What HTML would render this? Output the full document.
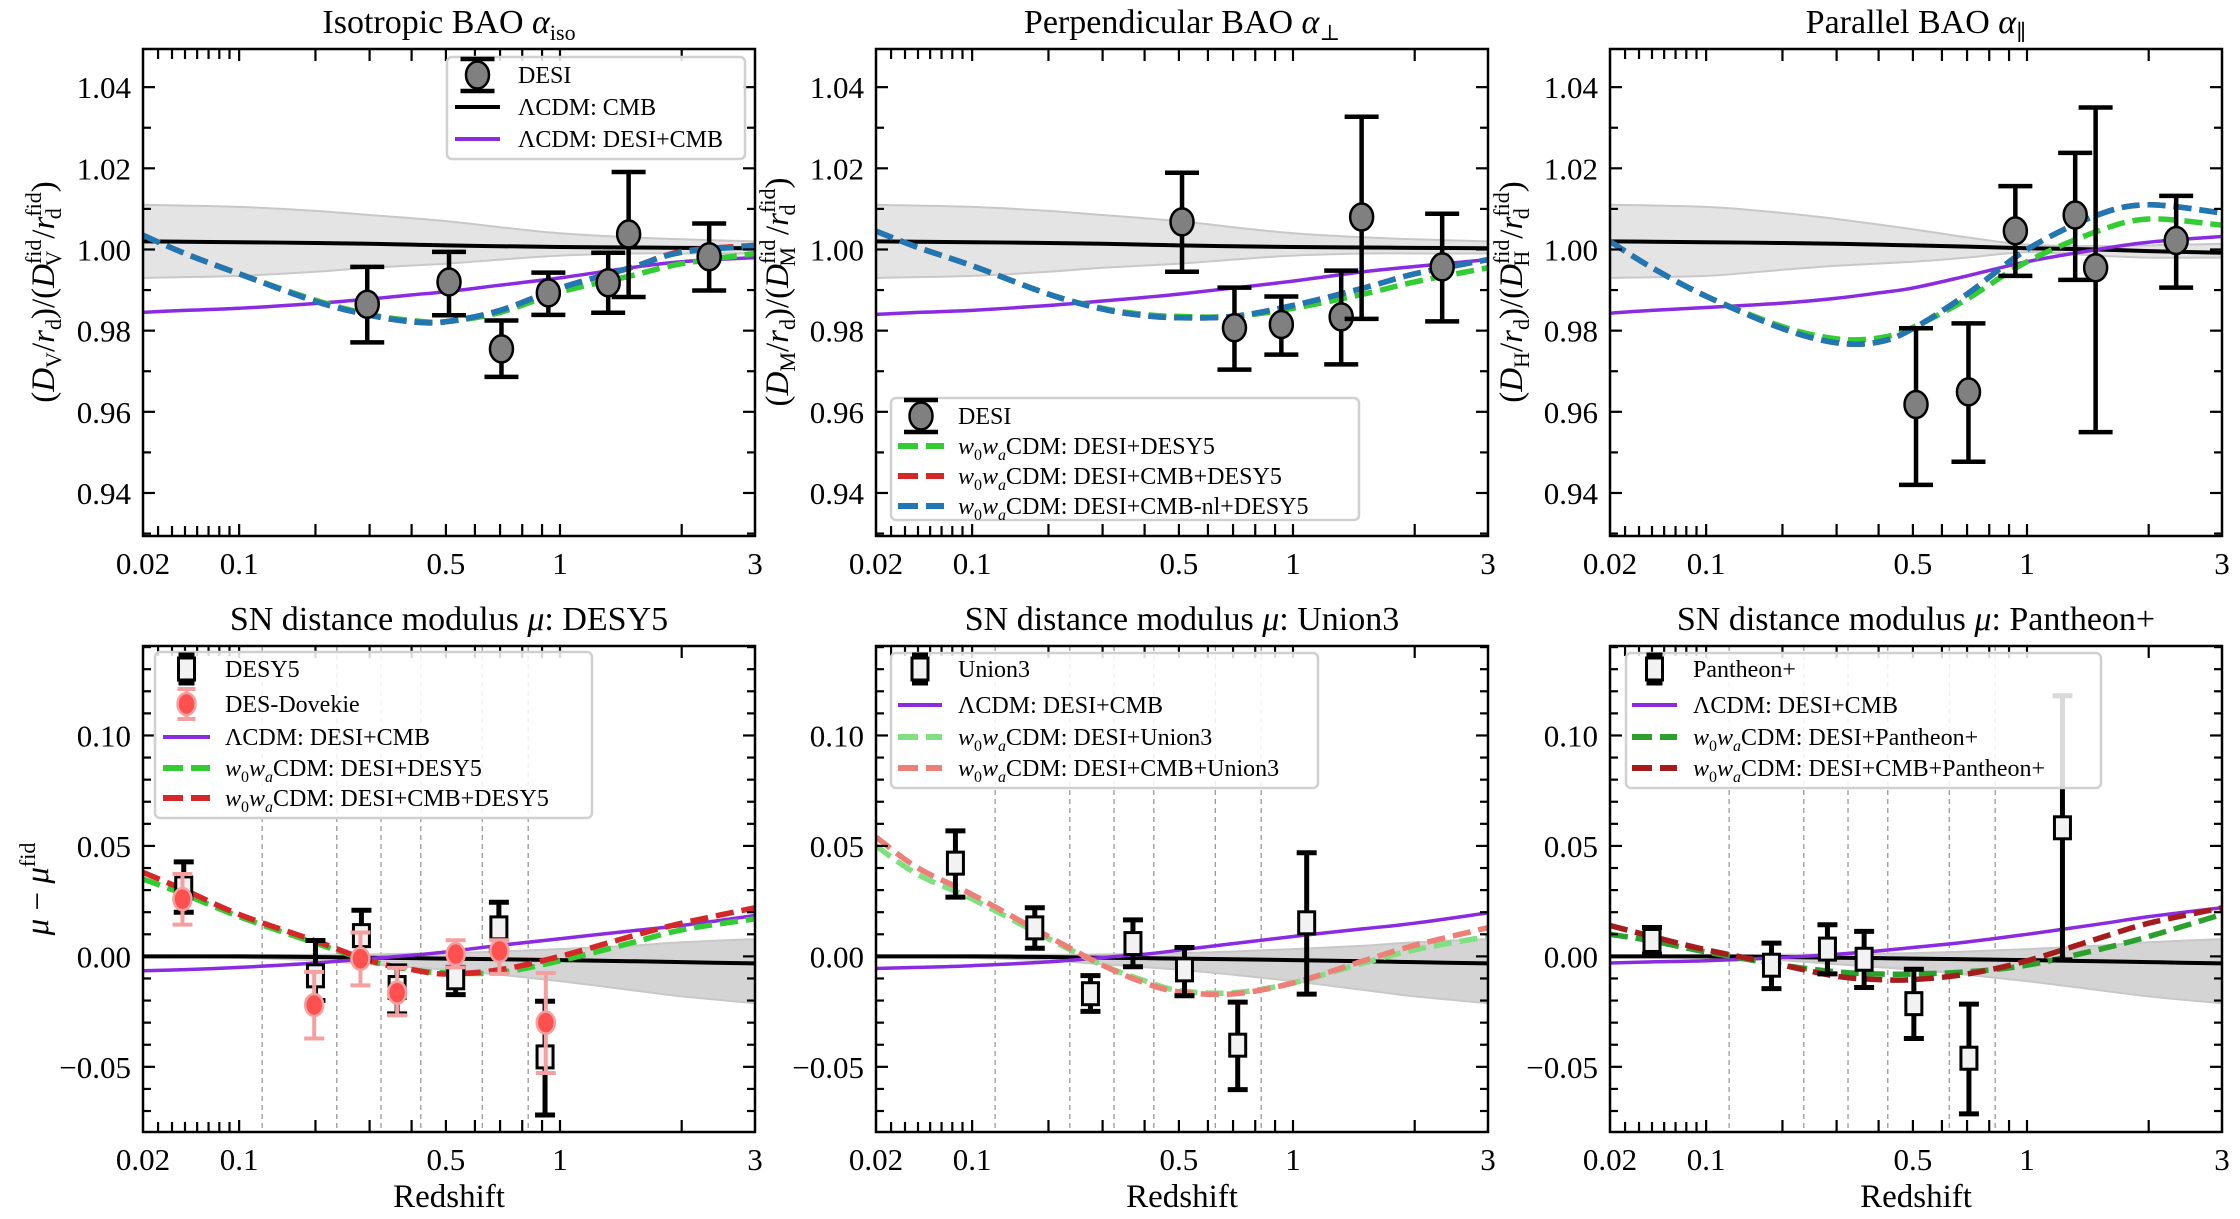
<!DOCTYPE html>
<html><head><meta charset="utf-8"><style>
html,body{margin:0;padding:0;background:#fff;}
svg{display:block;font-family:"Liberation Serif","DejaVu Serif",serif;}
</style></head><body>
<svg id="fig" width="2240" height="1219" viewBox="0 0 2240 1219" xmlns="http://www.w3.org/2000/svg"></svg>
<script>
// ---------- data ----------
const zGrid=[0.02,0.05,0.1,0.2,0.3,0.4,0.5,0.7,1,1.5,2,3];
const bandZ=[0.02,0.1,0.2,0.3,0.5,0.7,1,1.5,2,3];
const baoIsoZ=[0.295,0.51,0.706,0.934,1.321,1.484,2.33];
const baoIsoV=[0.9865,0.992,0.9755,0.9893,0.9918,1.0038,0.9982];
const baoIsoHi=[0.9957,0.9994,0.9825,0.9943,0.9992,1.0191,1.0064];
const baoIsoLo=[0.9771,0.9838,0.9686,0.9839,0.9844,0.9883,0.9899];
const baoZ=[0.51,0.706,0.934,1.321,1.484,2.33];
const baoPerpV=[1.0068,0.9807,0.9815,0.9834,1.0080,0.9957];
const baoPerpHi=[1.0189,0.9906,0.9884,0.9948,1.0327,1.0088];
const baoPerpLo=[0.9945,0.9704,0.9741,0.9717,0.9829,0.9823];
const baoParV=[0.9618,0.9649,1.0046,1.0085,0.9955,1.0022];
const baoParHi=[0.9806,0.9818,1.0156,1.0238,1.0350,1.0132];
const baoParLo=[0.9420,0.9477,0.9935,0.9925,0.9550,0.9906];

const isoBlack=[1.002,1.0019,1.0018,1.0016,1.0014,1.0012,1.001,1.0008,1.0006,1.0005,1.0004,1.0003];
const isoPurple=[0.9845,0.985,0.9855,0.9867,0.9878,0.9888,0.9896,0.9912,0.993,0.9955,0.997,0.998];
const isoGreen=[1.0035,0.999,0.994,0.9875,0.984,0.9825,0.9822,0.9845,0.9895,0.9935,0.9965,0.999];
const isoRed=[1.0035,0.999,0.994,0.9872,0.9838,0.9822,0.9822,0.985,0.9905,0.9955,0.9995,1.001];
const isoBlue=[1.0035,0.999,0.994,0.9872,0.9838,0.9822,0.9822,0.985,0.9905,0.9955,0.9993,1.0008];
const isoBandHi=[1.011,1.0105,1.0095,1.0085,1.007,1.0055,1.004,1.003,1.0025,1.002];
const isoBandLo=[0.993,0.9935,0.9945,0.9955,0.9965,0.9975,0.9985,0.999,0.999,0.999];

const perpPurple=[0.984,0.9845,0.985,0.9862,0.9873,0.9882,0.989,0.9905,0.9922,0.9945,0.9958,0.9975];
const perpGreen=[1.0045,1.0005,0.996,0.989,0.9855,0.984,0.9835,0.9835,0.9855,0.989,0.992,0.9955];
const perpRed=[1.0045,1.0005,0.996,0.989,0.9853,0.9837,0.9832,0.9835,0.9862,0.9905,0.994,0.9975];
const perpBlue=perpRed;

const parBlack=[1.002,1.0019,1.0018,1.0016,1.0014,1.0012,1.001,1.0007,1.0003,1.0,0.9996,0.9992];
const parPurple=[0.9843,0.985,0.9857,0.9868,0.988,0.9893,0.9905,0.9935,0.997,1.0,1.0018,1.0032];
const parGreen=[1.002,0.9955,0.9885,0.981,0.978,0.9782,0.9808,0.9878,0.997,1.0045,1.0075,1.006];
const parRed=[1.002,0.9955,0.9885,0.9805,0.977,0.9772,0.9805,0.989,1.0,1.0085,1.011,1.009];
const parBlue=parRed;
const parBandHi=[1.011,1.0105,1.009,1.0075,1.005,1.003,1.0012,1.0008,1.001,1.0014];
const parBandLo=[0.993,0.9935,0.995,0.996,0.997,0.998,0.9993,0.9985,0.998,0.998];

const snEdges=[0.126,0.236,0.325,0.425,0.628,0.829];
const snBlack=[0,0,0,-0.0003,-0.0006,-0.0008,-0.001,-0.0013,-0.0017,-0.0022,-0.0026,-0.0032];
const snBandHi=[0,0.0005,0.001,0.0015,0.0025,0.0035,0.005,0.007,0.009,0.011];
const snBandLo=[0,-0.0007,-0.0015,-0.003,-0.005,-0.007,-0.0095,-0.013,-0.0155,-0.018];
const snPurple=[-0.0065,-0.006,-0.005,-0.003,-0.001,0.0005,0.002,0.005,0.008,0.0115,0.014,0.0185];

const desZ=[0.049,0.20,0.283,0.363,0.532,0.695,0.916];
const desV=[0.031,-0.0088,0.0094,-0.0141,-0.0097,0.0129,-0.0455];
const desHi=[0.0428,0.0072,0.0209,-0.0043,-0.005,0.0245,-0.0203];
const desLo=[0.020,-0.020,-0.0016,-0.026,-0.0173,0.0028,-0.0718];
const dovZ=[0.048,0.198,0.281,0.363,0.532,0.697,0.92];
const dovV=[0.0259,-0.022,-0.0011,-0.0164,0.001,0.0025,-0.030];
const dovHi=[0.0373,-0.007,0.0108,-0.0052,0.0073,0.0073,-0.0075];
const dovLo=[0.0144,-0.0372,-0.0131,-0.0267,-0.005,-0.0079,-0.0528];
const desGreen=[0.035,0.028,0.018,0.006,-0.002,-0.006,-0.0075,-0.0072,-0.002,0.006,0.012,0.017];
const desRed=[0.038,0.030,0.019,0.007,-0.002,-0.006,-0.008,-0.006,0.0,0.009,0.015,0.022];

const uniZ=[0.083,0.179,0.275,0.37,0.518,0.72,1.083];
const uniV=[0.0422,0.0129,-0.0169,0.0058,-0.0061,-0.0402,0.0152];
const uniHi=[0.0568,0.022,-0.0087,0.0165,0.004,-0.0207,0.0469];
const uniLo=[0.0268,0.0037,-0.0249,-0.0047,-0.0178,-0.0603,-0.0171];
const uniGreen=[0.050,0.037,0.026,0.008,-0.004,-0.011,-0.0155,-0.0165,-0.012,-0.003,0.003,0.009];
const uniRed=[0.054,0.040,0.028,0.009,-0.004,-0.012,-0.016,-0.017,-0.012,-0.002,0.005,0.013];
const uniPurple=[-0.0055,-0.005,-0.0042,-0.0025,-0.0005,0.001,0.0028,0.0058,0.009,0.0125,0.015,0.0197];

const panZ=[0.05,0.183,0.281,0.363,0.503,0.708,1.228];
const panV=[0.0072,-0.004,0.0033,-0.0013,-0.0214,-0.0461,0.0582];
const panHi=[0.0131,0.006,0.0143,0.0113,-0.0058,-0.0216,0.118];
const panLo=[0.001,-0.0146,-0.0079,-0.0141,-0.0372,-0.0713,-0.0016];
const panGreen=[0.010,0.007,0.002,-0.004,-0.007,-0.008,-0.008,-0.007,-0.004,0.003,0.009,0.019];
const panRed=[0.014,0.009,0.003,-0.004,-0.009,-0.0105,-0.0105,-0.008,-0.002,0.008,0.015,0.022];
const panPurple=[-0.003,-0.0025,-0.002,-0.0005,0.001,0.0025,0.004,0.0065,0.010,0.0145,0.018,0.022];

const xTickVals=[0.02,0.1,0.5,1,3];
const xTickLabels=["0.02","0.1","0.5","1","3"];
const topYTicks=[0.94,0.96,0.98,1.00,1.02,1.04];
const topYLabels=["0.94","0.96","0.98","1.00","1.02","1.04"];
const botYTicks=[-0.05,0,0.05,0.10];
const botYLabels=["\u22120.05","0.00","0.05","0.10"];

// ---------- helpers ----------
const NS="http://www.w3.org/2000/svg";
const svg=document.getElementById('fig');
const W=612, L0=Math.log(0.12), L1=Math.log(3.1);
function mk(tag,attrs,parent){const e=document.createElementNS(NS,tag);for(const k in attrs)e.setAttribute(k,attrs[k]);(parent||svg).appendChild(e);return e;}
function xm(p,z){return p.x0+(Math.log(z+0.1)-L0)/(L1-L0)*W;}
function ym(p,v){return p.y0+(p.ymax-v)/(p.ymax-p.ymin)*p.h;}
function smoothPath(pts){let d='M'+pts[0][0].toFixed(1)+','+pts[0][1].toFixed(1);
 for(let i=0;i<pts.length-1;i++){const p0=pts[i-1]||pts[i],p1=pts[i],p2=pts[i+1],p3=pts[i+2]||p2;
  const c1=[p1[0]+(p2[0]-p0[0])/6,p1[1]+(p2[1]-p0[1])/6],c2=[p2[0]-(p3[0]-p1[0])/6,p2[1]-(p3[1]-p1[1])/6];
  d+='C'+c1[0].toFixed(1)+','+c1[1].toFixed(1)+' '+c2[0].toFixed(1)+','+c2[1].toFixed(1)+' '+p2[0].toFixed(1)+','+p2[1].toFixed(1);}
 return d;}
function curve(p,g,zs,vs,color,w,dash,name){const pts=zs.map((z,i)=>[xm(p,z),ym(p,vs[i])]);
 const a={d:smoothPath(pts),fill:'none',stroke:color,'stroke-width':w,'stroke-linecap':'butt'};if(dash)a['stroke-dasharray']=dash;
 const e=mk('path',a,g);
 
 }
function band(p,g,zs,hi,lo){const up=zs.map((z,i)=>[xm(p,z),ym(p,hi[i])]);const dn=zs.map((z,i)=>[xm(p,z),ym(p,lo[i])]).reverse();
 let d=smoothPath(up);const d2=smoothPath(dn);d+='L'+d2.slice(1)+'Z';
 const e=mk('path',{d:d,fill:p.bandFill,stroke:'#c8c8c8','stroke-width':2},g);
 
 }
function errbars(p,g,zs,vs,hi,lo,kind,name){
 zs.forEach((z,i)=>{const x=xm(p,z);const gg=mk('g',{},g);
  
  
  const col=kind==='dov'?'#f5a0a0':'#000';const lw=kind==='circ'?4.5:(kind==='dov'?4:5);const cw=kind==='circ'?17:10;
  mk('line',{x1:x,x2:x,y1:ym(p,hi[i]),y2:ym(p,lo[i]),stroke:col,'stroke-width':lw},gg);
  mk('line',{x1:x-cw,x2:x+cw,y1:ym(p,hi[i]),y2:ym(p,hi[i]),stroke:col,'stroke-width':lw},gg);
  mk('line',{x1:x-cw,x2:x+cw,y1:ym(p,lo[i]),y2:ym(p,lo[i]),stroke:col,'stroke-width':lw},gg);
  const y=ym(p,vs[i]);
  if(kind==='circ')mk('ellipse',{cx:x,cy:y,rx:11.5,ry:13.5,fill:'#808080',stroke:'#000','stroke-width':2.5},gg);
  else if(kind==='sq')mk('rect',{x:x-8,y:y-11,width:16,height:22,fill:'#f2f2f2',stroke:'#000','stroke-width':3},gg);
  else mk('ellipse',{cx:x,cy:y,rx:9,ry:11,fill:'#ff5050',stroke:'#f5a0a0','stroke-width':2.5},gg);
 });}
function ticksAxes(p,yt,yl,minorStep,xlabels){
 const g=mk('g',{});
 
 
 const xt=[0.03,0.04,0.05,0.06,0.07,0.08,0.09,0.1,0.2,0.3,0.4,0.5,0.6,0.7,0.8,0.9,1,2];
 xt.forEach(z=>{const x=xm(p,z);const L=z<0.1?10:12;
  mk('line',{x1:x,x2:x,y1:p.y0,y2:p.y0+L,stroke:'#000','stroke-width':2.2},g);
  mk('line',{x1:x,x2:x,y1:p.y0+p.h,y2:p.y0+p.h-L,stroke:'#000','stroke-width':2.2},g);});
 for(let v=Math.ceil(p.ymin/minorStep)*minorStep;v<=p.ymax;v+=minorStep){const y=ym(p,v);
  const major=yt.some(t=>Math.abs(t-v)<minorStep/4);const L=major?12:8;
  mk('line',{x1:p.x0,x2:p.x0+L,y1:y,y2:y,stroke:'#000','stroke-width':2.2},g);
  mk('line',{x1:p.x0+W,x2:p.x0+W-L,y1:y,y2:y,stroke:'#000','stroke-width':2.2},g);}
 mk('rect',{x:p.x0,y:p.y0,width:W,height:p.h,fill:'none',stroke:'#000','stroke-width':2.5},g);
 yt.forEach((v,i)=>{const t=mk('text',{x:p.x0-12,y:ym(p,v)+11,'text-anchor':'end','font-size':31},g);t.textContent=yl[i];
  
  });
 xTickVals.forEach((z,i)=>{const t=mk('text',{x:xm(p,z),y:p.y0+p.h+38,'text-anchor':'middle','font-size':31},g);t.textContent=xlabels[i];
  
  });
}
function title(p,html){const t=mk('text',{x:p.x0+W/2,y:p.y0-16,'text-anchor':'middle','font-size':34});t.innerHTML=html;
 
 }
function ylabel(x,y,html,name){const t=mk('text',{x:0,y:0,'text-anchor':'middle','font-size':33,transform:'translate('+x+','+y+') rotate(-90)'});t.innerHTML=html;
 
 }
function clipFor(p){const id='clip-'+p.name;const c=mk('clipPath',{id:id});mk('rect',{x:p.x0,y:p.y0,width:W,height:p.h},c);
 const g=mk('g',{'clip-path':'url(#'+id+')'});
 
 
 return g;}
function legend(box,entries,tx,sx0,sx1){const g=mk('g',{});
 
 
 mk('rect',{x:box[0],y:box[1],width:box[2]-box[0],height:box[3]-box[1],rx:5,fill:'#fff','fill-opacity':0.85,stroke:'#d0d0d0','stroke-width':2.5},g);
 entries.forEach(en=>{const y=en.y;const gg=mk('g',{},g);
  
  
  const cx=(sx0+sx1)/2;
  if(en.kind==='line')mk('line',{x1:sx0,x2:sx1,y1:y,y2:y,stroke:en.color,'stroke-width':en.w||4},gg);
  else if(en.kind==='dash')mk('line',{x1:sx0,x2:sx1,y1:y,y2:y,stroke:en.color,'stroke-width':6,'stroke-dasharray':'20 8'},gg);
  else if(en.kind==='circ'){mk('line',{x1:cx,x2:cx,y1:y-16,y2:y+16,stroke:'#000','stroke-width':4.5},gg);mk('line',{x1:cx-17,x2:cx+17,y1:y-16,y2:y-16,stroke:'#000','stroke-width':4.5},gg);mk('line',{x1:cx-17,x2:cx+17,y1:y+16,y2:y+16,stroke:'#000','stroke-width':4.5},gg);mk('ellipse',{cx:cx,cy:y,rx:11.5,ry:13.5,fill:'#808080',stroke:'#000','stroke-width':2.5},gg);}
  else if(en.kind==='sq'){mk('line',{x1:cx,x2:cx,y1:y-14,y2:y+14,stroke:'#000','stroke-width':5},gg);mk('line',{x1:cx-8,x2:cx+8,y1:y-14,y2:y-14,stroke:'#000','stroke-width':5},gg);mk('line',{x1:cx-8,x2:cx+8,y1:y+14,y2:y+14,stroke:'#000','stroke-width':5},gg);mk('rect',{x:cx-8,y:y-11,width:16,height:22,fill:'#f2f2f2',stroke:'#000','stroke-width':3},gg);}
  else if(en.kind==='dov'){mk('line',{x1:cx,x2:cx,y1:y-15,y2:y+15,stroke:'#f5a0a0','stroke-width':4},gg);mk('line',{x1:cx-9,x2:cx+9,y1:y-15,y2:y-15,stroke:'#f5a0a0','stroke-width':4},gg);mk('line',{x1:cx-9,x2:cx+9,y1:y+15,y2:y+15,stroke:'#f5a0a0','stroke-width':4},gg);mk('ellipse',{cx:cx,cy:y,rx:9,ry:11,fill:'#ff5050',stroke:'#f5a0a0','stroke-width':2.5},gg);}
  const t=mk('text',{x:tx,y:y+8,'font-size':24},gg);t.innerHTML=en.label;});
}
const W0W='<tspan font-style="italic">w</tspan><tspan font-size="16" dy="6">0</tspan><tspan font-style="italic" dy="-6">w</tspan><tspan font-size="16" font-style="italic" dy="6">a</tspan><tspan dy="-6">CDM: </tspan>';

// ---------- panels ----------
const TOP={y0:49,h:487,ymin:0.9294,ymax:1.0494,bandFill:'#e4e4e4'};
const BOT={y0:646,h:486,ymin:-0.0795,ymax:0.1405,bandFill:'#d4d4d4'};
const P=[
 Object.assign({x0:143,name:'iso-panel'},TOP),
 Object.assign({x0:876,name:'perp-panel'},TOP),
 Object.assign({x0:1610,name:'par-panel'},TOP),
 Object.assign({x0:143,name:'desy5-panel'},BOT),
 Object.assign({x0:876,name:'union3-panel'},BOT),
 Object.assign({x0:1610,name:'pantheon-panel'},BOT)];
const GREEN='#32cd32',RED='#d62728',BLUE='#1f77b4',PURP='#8a2be2',DASH='18 8';

// Iso
(function(){const p=P[0],g=clipFor(p);band(p,g,bandZ,isoBandHi,isoBandLo);
 curve(p,g,zGrid,isoBlack,'#000',4,null,'lcdm-cmb-line');curve(p,g,zGrid,isoPurple,PURP,3.5,null,'lcdm-desi-cmb-line');
 curve(p,g,zGrid,isoGreen,GREEN,5.5,DASH,'w0wa-desi-desy5-line');curve(p,g,zGrid,isoRed,RED,5.5,DASH,'w0wa-desi-cmb-desy5-line');curve(p,g,zGrid,isoBlue,BLUE,5.5,DASH,'w0wa-desi-cmb-nl-desy5-line');
 errbars(p,g,baoIsoZ,baoIsoV,baoIsoHi,baoIsoLo,'circ','desi-iso');
 ticksAxes(p,topYTicks,topYLabels,0.01,xTickLabels);
 title(p,'Isotropic BAO <tspan font-style="italic">α</tspan><tspan font-size="22" dy="7">iso</tspan>');
 legend([447,57,745,159],[{y:75,kind:'circ',label:'DESI'},{y:107,kind:'line',color:'#000',label:'ΛCDM: CMB'},{y:139,kind:'line',color:PURP,label:'ΛCDM: DESI+CMB'}],518,455,500);
})();
// Perp
(function(){const p=P[1],g=clipFor(p);band(p,g,bandZ,isoBandHi,isoBandLo);
 curve(p,g,zGrid,isoBlack,'#000',4,null,'lcdm-cmb-line');curve(p,g,zGrid,perpPurple,PURP,3.5,null,'lcdm-desi-cmb-line');
 curve(p,g,zGrid,perpGreen,GREEN,5.5,DASH,'w0wa-desi-desy5-line');curve(p,g,zGrid,perpRed,RED,5.5,DASH,'w0wa-desi-cmb-desy5-line');curve(p,g,zGrid,perpBlue,BLUE,5.5,DASH,'w0wa-desi-cmb-nl-desy5-line');
 errbars(p,g,baoZ,baoPerpV,baoPerpHi,baoPerpLo,'circ','desi-perp');
 ticksAxes(p,topYTicks,topYLabels,0.01,xTickLabels);
 title(p,'Perpendicular BAO <tspan font-style="italic">α</tspan><tspan font-size="22" dy="7">⊥</tspan>');
 legend([891,398,1359,520],[{y:416,kind:'circ',label:'DESI'},{y:446,kind:'dash',color:GREEN,label:W0W+'DESI+DESY5'},{y:476,kind:'dash',color:RED,label:W0W+'DESI+CMB+DESY5'},{y:506,kind:'dash',color:BLUE,label:W0W+'DESI+CMB-nl+DESY5'}],958,898,944);
})();
// Par
(function(){const p=P[2],g=clipFor(p);band(p,g,bandZ,parBandHi,parBandLo);
 curve(p,g,zGrid,parBlack,'#000',4,null,'lcdm-cmb-line');curve(p,g,zGrid,parPurple,PURP,3.5,null,'lcdm-desi-cmb-line');
 curve(p,g,zGrid,parGreen,GREEN,5.5,DASH,'w0wa-desi-desy5-line');curve(p,g,zGrid,parRed,RED,5.5,DASH,'w0wa-desi-cmb-desy5-line');curve(p,g,zGrid,parBlue,BLUE,5.5,DASH,'w0wa-desi-cmb-nl-desy5-line');
 errbars(p,g,baoZ,baoParV,baoParHi,baoParLo,'circ','desi-par');
 ticksAxes(p,topYTicks,topYLabels,0.01,xTickLabels);
 title(p,'Parallel BAO <tspan font-style="italic">α</tspan><tspan font-size="22" dy="7">∥</tspan>');
})();
// SN panels
function snPanel(p,pts,curves,purple,tit){const g=clipFor(p);
 snEdges.forEach(z=>{const l=mk('line',{x1:xm(p,z),x2:xm(p,z),y1:p.y0,y2:p.y0+p.h,stroke:'#999','stroke-width':1.3,'stroke-dasharray':'5 4'},g);
  
  });
 band(p,g,bandZ,snBandHi.map((v,i)=>v+(snBlack[[0,2,3,4,6,7,8,9,10,11][i]])),snBandLo.map((v,i)=>v+(snBlack[[0,2,3,4,6,7,8,9,10,11][i]])));
 curve(p,g,zGrid,snBlack,'#000',4,null,'lcdm-cmb-line');curve(p,g,zGrid,purple,PURP,3.5,null,'lcdm-desi-cmb-line');
 curves.forEach(c=>curve(p,g,zGrid,c[0],c[1],5.5,DASH,c[2]));
 pts.forEach(s=>errbars(p,g,s[0],s[1],s[2],s[3],s[4],s[5]));
 ticksAxes(p,botYTicks,botYLabels,0.01,xTickLabels);
 title(p,'SN distance modulus <tspan font-style="italic">μ</tspan>: '+tit);
 const t=mk('text',{x:p.x0+W/2,y:1207,'text-anchor':'middle','font-size':33});t.textContent='Redshift';
 
 }
snPanel(P[3],[[desZ,desV,desHi,desLo,'sq','desy5'],[dovZ,dovV,dovHi,dovLo,'dov','des-dovekie']],[[desGreen,GREEN,'w0wa-desi-desy5-line'],[desRed,RED,'w0wa-desi-cmb-desy5-line']],snPurple,'DESY5');
legend([155,652,592,818],[{y:669,kind:'sq',label:'DESY5'},{y:704,kind:'dov',label:'DES-Dovekie'},{y:737,kind:'line',color:PURP,label:'ΛCDM: DESI+CMB'},{y:768,kind:'dash',color:GREEN,label:W0W+'DESI+DESY5'},{y:798,kind:'dash',color:RED,label:W0W+'DESI+CMB+DESY5'}],225,163,210);
snPanel(P[4],[[uniZ,uniV,uniHi,uniLo,'sq','union3']],[[uniGreen,'#7fe07f','w0wa-desi-union3-line'],[uniRed,'#ee7f77','w0wa-desi-cmb-union3-line']],uniPurple,'Union3');
legend([891,653,1318,788],[{y:669,kind:'sq',label:'Union3'},{y:705,kind:'line',color:PURP,label:'ΛCDM: DESI+CMB'},{y:737,kind:'dash',color:'#7fe07f',label:W0W+'DESI+Union3'},{y:768,kind:'dash',color:'#ee7f77',label:W0W+'DESI+CMB+Union3'}],958,898,942);
snPanel(P[5],[[panZ,panV,panHi,panLo,'sq','pantheon']],[[panGreen,'#2ca02c','w0wa-desi-pantheon-line'],[panRed,'#a51c1c','w0wa-desi-cmb-pantheon-line']],panPurple,'Pantheon+');
legend([1626,653,2101,788],[{y:669,kind:'sq',label:'Pantheon+'},{y:705,kind:'line',color:PURP,label:'ΛCDM: DESI+CMB'},{y:737,kind:'dash',color:'#2ca02c',label:W0W+'DESI+Pantheon+'},{y:768,kind:'dash',color:'#a51c1c',label:W0W+'DESI+CMB+Pantheon+'}],1693,1632,1677);

// y labels
function baoY(sub){return '(<tspan font-style="italic">D</tspan><tspan font-size="22" dy="7">'+sub+'</tspan><tspan dy="-7">/</tspan><tspan font-style="italic">r</tspan><tspan font-size="22" dy="7">d</tspan><tspan dy="-7">)/(</tspan><tspan font-style="italic">D</tspan><tspan font-size="22" dy="-13">fid</tspan><tspan font-size="22" dx="-27" dy="20">'+sub+'</tspan><tspan dy="-7" dx="12">/</tspan><tspan font-style="italic">r</tspan><tspan font-size="22" dy="-13">fid</tspan><tspan font-size="22" dx="-27" dy="20">d</tspan><tspan dy="-7" dx="16">)</tspan>';}
ylabel(54,292,baoY('V'),'iso-y-axis-title');
ylabel(788,292,baoY('M'),'perp-y-axis-title');
ylabel(1522,292,baoY('H'),'par-y-axis-title');
ylabel(48,889,'<tspan font-style="italic">μ</tspan> − <tspan font-style="italic">μ</tspan><tspan font-size="22" dy="-13">fid</tspan>','sn-y-axis-title');
</script>
</body></html>
